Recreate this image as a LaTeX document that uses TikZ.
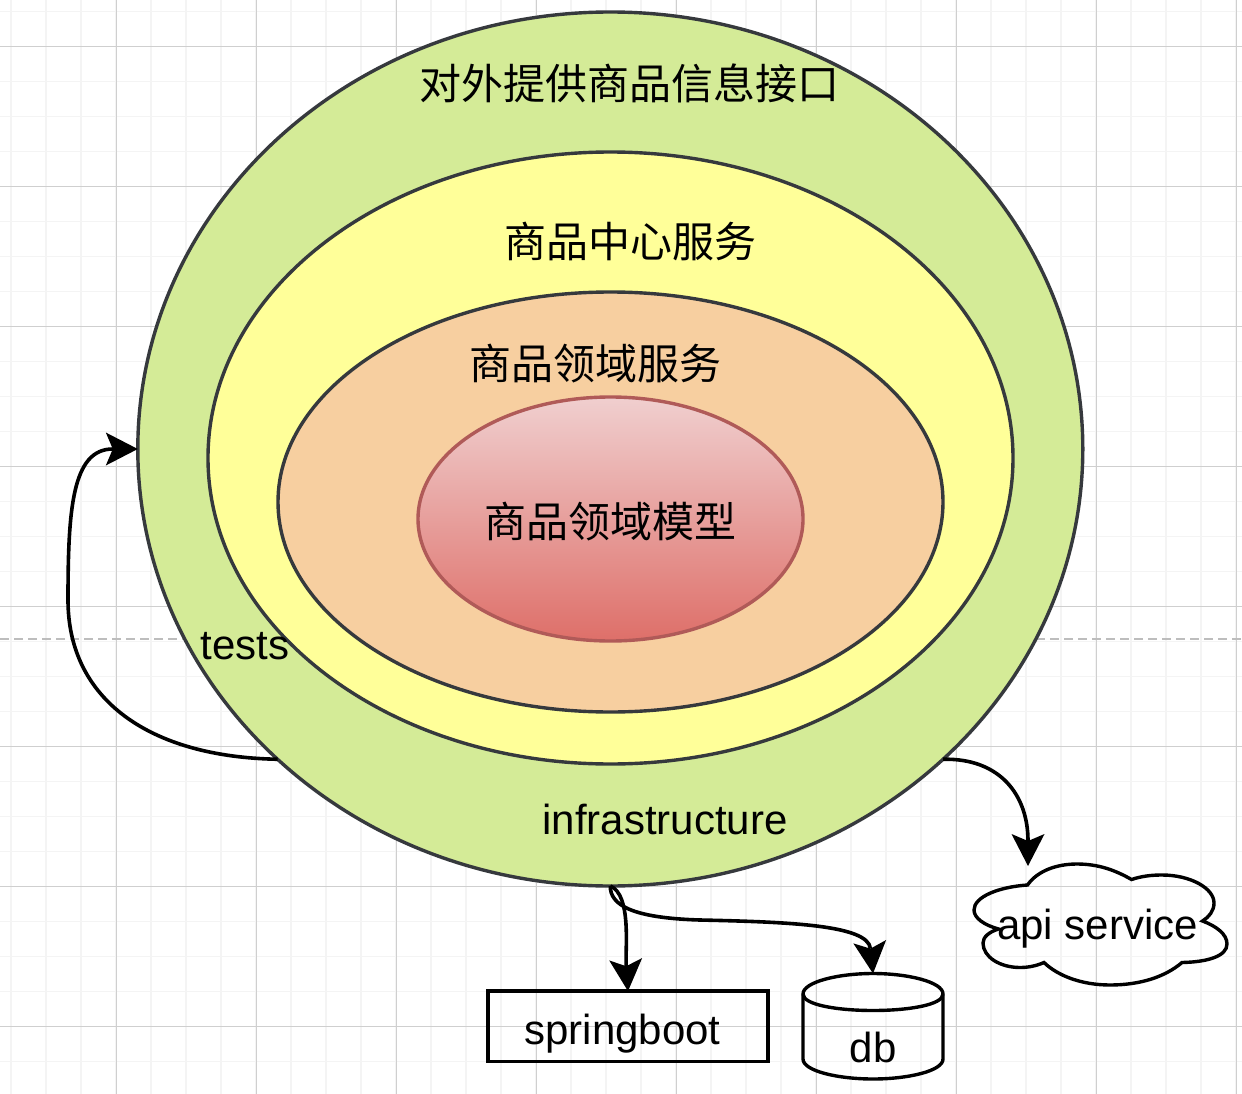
\documentclass[tikz,border=0pt]{standalone}
\usepackage{fontspec}
\setmainfont{Liberation Sans}
\newfontfamily\cjkfont{Noto Sans CJK SC}
\usetikzlibrary{arrows.meta,shapes.geometric}
\definecolor{gridminor}{HTML}{F4F4F4}
\definecolor{gridmajor}{HTML}{CFCFCF}
\definecolor{dashgrey}{HTML}{BDBDBD}
\definecolor{ringstroke}{HTML}{36393D}
\definecolor{ringgreen}{HTML}{D4EB97}
\definecolor{ringyellow}{HTML}{FFFF99}
\definecolor{ringorange}{HTML}{F7CFA0}
\definecolor{coretop}{HTML}{F0CFCF}
\definecolor{corebottom}{HTML}{DE6F69}
\definecolor{corestroke}{HTML}{B05A58}
\tikzset{
  ring/.style={ellipse,draw=ringstroke,line width=3.4pt,inner sep=0pt,outer sep=0pt},
  cjklabel/.style={inner sep=0pt,font=\cjkfont\fontsize{42}{50}\selectfont},
  latinlabel/.style={inner sep=0pt,anchor=base,font=\fontsize{42}{50}\selectfont},
  link/.style={draw=black,line width=3.6pt,-{Stealth[length=32pt,width=33pt,inset=7pt,line width=0pt]}},
  plainshape/.style={draw=black,line width=3.4pt}
}
\begin{document}
\begin{tikzpicture}[x=1pt,y=-1pt]
\useasboundingbox (0,0) rectangle (1242,1094);
\fill[white] (0,0) rectangle (1242,1094);
% grid
\foreach \k in {0,...,35} {
  \draw[gridminor,line width=1.7pt] ({11+35*\k},0) -- ({11+35*\k},1094);
}
\foreach \k in {0,...,31} {
  \draw[gridminor,line width=1.7pt] (0,{11.5+35*\k}) -- (1242,{11.5+35*\k});
}
\foreach \k in {0,...,8} {
  \draw[gridmajor,line width=1.3pt] ({116.5+140*\k},0) -- ({116.5+140*\k},1094);
}
\foreach \k in {0,...,7} {
  \draw[gridmajor,line width=1.3pt] (0,{46.5+140*\k}) -- (1242,{46.5+140*\k});
}
\draw[dashgrey,line width=1.5pt,dash pattern=on 9pt off 5pt] (0,639) -- (1242,639);
% rings
\node[ring,fill=ringgreen,minimum width=945pt,minimum height=874pt] (outer) at (610.3,449) {};
\node[ring,fill=ringyellow,minimum width=805pt,minimum height=612pt] (middle) at (610.5,458) {};
\node[ring,fill=ringorange,minimum width=665pt,minimum height=420pt] (inner) at (610.5,502) {};
\node[ring,draw=corestroke,top color=coretop,bottom color=corebottom,minimum width=385pt,minimum height=244pt] (core) at (610.5,519) {};
% ring labels
\node[cjklabel] (lblapi) at (629,83.5) {对外提供商品信息接口};
\node[cjklabel] (lblcenter) at (630,241.5) {商品中心服务};
\node[cjklabel] (lbldomain) at (595,364) {商品领域服务};
\node[cjklabel] (lblmodel) at (610.5,522) {商品领域模型};
\node[latinlabel] (tests) at (244.8,659) {tests};
\node[latinlabel] (infra) at (665,834) {infrastructure};
% springboot
\node[plainshape,minimum width=280pt,minimum height=70.5pt,inner sep=0pt,outer sep=0pt] (boot) at (628,1026.4) {};
\node[latinlabel] (bootlabel) at (622.5,1044) {springboot};
% db cylinder
\coordinate (dbtop) at (873,973.5);
\draw[plainshape] (803,994) .. controls (803,982) and (838,973.5) .. (dbtop)
  .. controls (908,973.5) and (943,982) .. (943,994)
  -- (943,1059) .. controls (943,1071) and (908,1079) .. (873,1079)
  .. controls (838,1079) and (803,1071) .. (803,1059) -- cycle;
\draw[plainshape] (803,994) .. controls (803,1005) and (838,1010.5) .. (873,1010.5)
  .. controls (908,1010.5) and (943,1005) .. (943,994);
\node[latinlabel] (dblabel) at (873,1062) {db};
% cloud
\coordinate (cloudtop) at (1028,866);
\draw[plainshape,line join=miter] (1027.5,885)
  .. controls (1038,870) and (1058,864) .. (1077,864)
  .. controls (1098,864) and (1115,870) .. (1131.5,879.5)
  .. controls (1142,876) and (1152,875) .. (1162,875)
  .. controls (1190,875) and (1214,888) .. (1214,903)
  .. controls (1214,911) and (1209,917) .. (1202.5,921)
  .. controls (1216,926) and (1227,934) .. (1227,944)
  .. controls (1227,956) and (1208,962) .. (1182,962.5)
  .. controls (1165,977) and (1140,985) .. (1110,985)
  .. controls (1082,985) and (1058,976) .. (1044,962.5)
  .. controls (1036,966) and (1028,967.5) .. (1020,967.5)
  .. controls (1000,967.5) and (983,957) .. (983,943)
  .. controls (983,937) and (989,932) .. (998.5,929)
  .. controls (984,925) and (974,918) .. (974,910)
  .. controls (974,897) and (998,887) .. (1027.5,885) -- cycle;
\node[latinlabel] (cloudlabel) at (1097.5,939) {api service};
% connectors
\draw[link] (outer.223.3) .. controls (150,757) and (68,700) .. (68,600)
  .. controls (68,510) and (72,449) .. (outer.west);
\draw[link] (outer.317.8) .. controls (1000,758) and (1028,795) .. (cloudtop);
\draw[link] (outer.south) .. controls (632,895) and (625,950) .. (boot.north);
\draw[link] (outer.south) .. controls (610,905) and (632,918) .. (700,920)
  .. controls (790,922) and (868,925) .. (dbtop);
\end{tikzpicture}
\end{document}
